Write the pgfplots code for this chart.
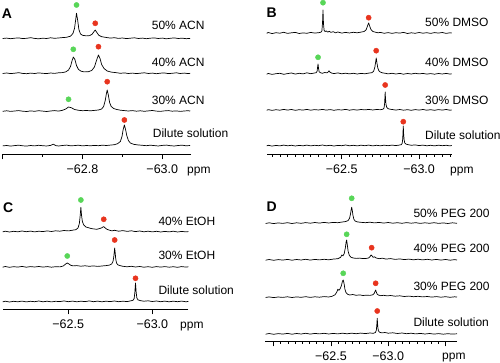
\documentclass[border=0pt]{standalone}
\usepackage{fontspec}
\setmainfont{Liberation Sans}
\usepackage{pgfplots}
\pgfplotsset{compat=1.18}
\definecolor{dotgreen}{RGB}{88,214,88}
\definecolor{dotred}{RGB}{232,52,30}
\pgfplotsset{
 nmr/.style={scale only axis, axis x line=bottom, axis y line=none,
   axis line style={-, line width=0.8pt}, x dir=reverse, ymin=0, clip=false,
   tick align=outside, major tick length=5pt, minor tick length=2.5pt,
   every tick/.style={black, line width=0.7pt}, ytick=\empty,
   xticklabel style={font=\fontsize{12.5}{14}\selectfont, inner sep=0pt, yshift=-5pt}},
 spec/.style={black, line width=0.7pt, no markers, line join=round},
 gdot/.style={only marks, mark=*, mark size=2.6pt, color=dotgreen},
 rdot/.style={only marks, mark=*, mark size=2.6pt, color=dotred},
}
\newcommand{\lbl}{\fontsize{12}{14}\selectfont}
\begin{document}
\begin{tikzpicture}
\path[use as bounding box] (0,0) rectangle (500pt,363pt);
% ---------------- A ----------------
\begin{axis}[nmr, at={(2.7pt,208.5pt)}, anchor=south west, width=188.3pt, height=154.5pt,
  xmin=-63.072, xmax=-62.6, ymax=154.5,
  xtick={-62.6,-62.8,-63.0}, xticklabels={,−62.8,−63.0}, minor x tick num=1]
\addplot[spec] coordinates {(-62.600,116.0)(-62.610,116.4)(-62.620,115.8)(-62.630,116.3)(-62.640,116.6)(-62.650,115.9)(-62.660,116.2)(-62.670,116.8)(-62.680,116.1)(-62.690,115.7)(-62.700,116.3)(-62.710,116.0)(-62.720,116.7)(-62.730,116.2)(-62.740,116.5)(-62.750,116.9)(-62.760,117.2)(-62.770,118.3)(-62.776,121)(-62.780,126)(-62.783,135)(-62.785,141.2)(-62.788,134)(-62.791,125)(-62.795,120.5)(-62.800,119.2)(-62.810,118.6)(-62.818,118.9)(-62.824,120.2)(-62.829,123)(-62.832,124.5)(-62.836,122)(-62.841,119.2)(-62.848,117.8)(-62.860,117.0)(-62.870,116.4)(-62.880,116.8)(-62.890,116.1)(-62.900,116.5)(-62.910,115.9)(-62.920,116.3)(-62.930,116.7)(-62.940,116.0)(-62.950,116.4)(-62.960,115.8)(-62.970,116.3)(-62.980,116.6)(-62.990,116.0)(-63.000,116.4)(-63.010,115.7)(-63.020,116.2)(-63.030,116.6)(-63.040,116.0)(-63.050,116.3)(-63.060,115.8)(-63.070,116.1)};
\addplot[spec] coordinates {(-62.600,81.0)(-62.610,81.5)(-62.620,80.9)(-62.630,81.3)(-62.640,81.8)(-62.650,81.1)(-62.660,80.8)(-62.670,81.4)(-62.680,81.0)(-62.690,81.6)(-62.700,81.2)(-62.710,80.9)(-62.720,81.5)(-62.730,81.1)(-62.740,81.7)(-62.750,81.9)(-62.758,82.6)(-62.765,84.5)(-62.770,88)(-62.774,94)(-62.777,97.5)(-62.781,95)(-62.785,89)(-62.790,85)(-62.797,83.2)(-62.805,82.6)(-62.815,82.8)(-62.823,84)(-62.830,87.5)(-62.835,94)(-62.840,99.5)(-62.844,96)(-62.848,90)(-62.854,86)(-62.862,83.5)(-62.872,82.4)(-62.885,81.8)(-62.895,81.2)(-62.905,81.6)(-62.915,81.0)(-62.925,81.4)(-62.935,80.9)(-62.945,81.3)(-62.955,81.7)(-62.965,81.0)(-62.975,81.4)(-62.985,80.8)(-62.995,81.3)(-63.005,81.6)(-63.015,80.9)(-63.025,81.2)(-63.035,81.7)(-63.045,81.0)(-63.055,81.4)(-63.065,80.9)(-63.070,81.2)};
\addplot[spec] coordinates {(-62.600,43.2)(-62.610,43.7)(-62.620,43.1)(-62.630,43.5)(-62.640,43.9)(-62.650,43.3)(-62.660,43.0)(-62.670,43.6)(-62.680,43.2)(-62.690,43.8)(-62.700,43.4)(-62.710,43.0)(-62.720,43.5)(-62.730,43.9)(-62.740,43.4)(-62.750,44.2)(-62.758,45.5)(-62.765,47.5)(-62.772,46.8)(-62.780,45)(-62.790,44.2)(-62.800,43.8)(-62.810,44.0)(-62.820,43.7)(-62.830,44.1)(-62.840,44.5)(-62.848,45.5)(-62.853,48)(-62.857,54)(-62.860,61)(-62.862,64.5)(-62.865,59)(-62.868,52)(-62.872,48)(-62.878,46)(-62.886,45)(-62.895,44.3)(-62.905,43.9)(-62.915,43.5)(-62.925,43.9)(-62.935,43.3)(-62.945,43.7)(-62.955,43.2)(-62.965,43.6)(-62.975,44.0)(-62.985,43.4)(-62.995,43.1)(-63.005,43.6)(-63.015,43.9)(-63.025,43.3)(-63.035,43.6)(-63.045,43.1)(-63.055,43.5)(-63.065,43.8)(-63.070,43.4)};
\addplot[spec] coordinates {(-62.600,8.6)(-62.610,9.0)(-62.620,8.4)(-62.630,8.9)(-62.640,9.3)(-62.650,8.7)(-62.660,8.4)(-62.670,9.0)(-62.680,8.6)(-62.690,9.2)(-62.700,8.8)(-62.710,8.5)(-62.720,9.1)(-62.727,10.3)(-62.733,8.9)(-62.740,8.5)(-62.750,9.0)(-62.760,9.4)(-62.770,8.7)(-62.780,8.9)(-62.790,9.3)(-62.800,8.6)(-62.810,9.0)(-62.820,8.7)(-62.830,9.1)(-62.840,8.8)(-62.850,9.3)(-62.860,9.0)(-62.870,9.4)(-62.880,9.8)(-62.888,10.8)(-62.895,13)(-62.899,18)(-62.902,25)(-62.905,29.5)(-62.908,25)(-62.911,19)(-62.915,14)(-62.920,11.5)(-62.928,10.2)(-62.938,9.6)(-62.950,9.2)(-62.960,8.8)(-62.970,9.3)(-62.980,8.9)(-62.990,8.5)(-63.000,9.1)(-63.010,9.4)(-63.020,8.8)(-63.030,8.5)(-63.040,9.0)(-63.050,9.3)(-63.060,8.7)(-63.070,9.0)};
\addplot[gdot] coordinates {(-62.785,149.5)(-62.777,105.2)(-62.765,55.2)};
\addplot[rdot] coordinates {(-62.832,131.2)(-62.840,107.8)(-62.862,72.8)(-62.905,34.5)};
\end{axis}
% ---------------- B ----------------
\begin{axis}[nmr, at={(266.7pt,208.7pt)}, anchor=south west, width=185pt, height=154.3pt,
  xmin=-63.211, xmax=-62.015, ymax=154.3,
  xtick={-62.5,-63.0}, xticklabels={−62.5,−63.0},
  minor xtick={-62.05,-62.1,-62.15,-62.2,-62.25,-62.3,-62.35,-62.4,-62.45,-62.55,-62.6,-62.65,-62.7,-62.75,-62.8,-62.85,-62.9,-62.95,-63.05,-63.1,-63.15,-63.2}]
\addplot[spec] coordinates {(-62.015,121.0)(-62.025,121.8)(-62.050,120.7)(-62.075,121.6)(-62.100,121.1)(-62.125,122.0)(-62.150,120.9)(-62.175,121.5)(-62.200,121.9)(-62.225,120.8)(-62.250,121.4)(-62.275,121.0)(-62.300,121.9)(-62.325,121.2)(-62.350,121.6)(-62.365,122.0)(-62.372,123.5)(-62.376,132)(-62.379,144.3)(-62.382,131)(-62.386,124)(-62.392,122.8)(-62.400,123.3)(-62.410,122.2)(-62.420,123.0)(-62.430,121.9)(-62.445,122.6)(-62.460,121.5)(-62.475,122.3)(-62.500,121.2)(-62.525,121.9)(-62.550,121.3)(-62.575,122.0)(-62.600,121.5)(-62.625,122.2)(-62.645,122.8)(-62.658,124.5)(-62.667,128.5)(-62.674,131.3)(-62.681,128)(-62.690,124.5)(-62.700,122.9)(-62.715,122.2)(-62.735,121.5)(-62.750,121.9)(-62.775,121.0)(-62.800,121.7)(-62.825,120.9)(-62.850,121.6)(-62.875,121.2)(-62.900,121.9)(-62.925,120.8)(-62.950,121.5)(-62.975,121.0)(-63.000,121.8)(-63.025,121.1)(-63.050,121.6)(-63.075,120.9)(-63.100,121.7)(-63.125,121.2)(-63.150,121.8)(-63.175,120.9)(-63.200,121.5)(-63.211,121.2)};
\addplot[spec] coordinates {(-62.015,80.1)(-62.025,80.8)(-62.050,79.9)(-62.075,80.6)(-62.100,81.0)(-62.125,80.0)(-62.150,80.7)(-62.175,81.3)(-62.200,80.2)(-62.225,81.0)(-62.250,80.4)(-62.275,81.5)(-62.300,80.6)(-62.320,81.2)(-62.335,81.6)(-62.341,83)(-62.344,87)(-62.347,90.3)(-62.350,86)(-62.354,82.5)(-62.362,81.6)(-62.375,81.0)(-62.390,81.8)(-62.405,81.4)(-62.413,82.5)(-62.418,83.5)(-62.424,82.2)(-62.435,81.2)(-62.450,80.7)(-62.475,81.4)(-62.500,80.5)(-62.525,81.1)(-62.550,80.4)(-62.575,81.0)(-62.600,80.3)(-62.625,80.9)(-62.650,80.5)(-62.675,81.2)(-62.695,81.6)(-62.706,83)(-62.714,87)(-62.719,92)(-62.723,96.3)(-62.727,92)(-62.733,86.5)(-62.740,83.5)(-62.750,82.2)(-62.765,81.4)(-62.785,80.9)(-62.800,80.4)(-62.825,81.0)(-62.850,80.3)(-62.875,80.9)(-62.900,80.1)(-62.925,80.8)(-62.950,80.3)(-62.975,81.0)(-63.000,80.4)(-63.025,80.9)(-63.050,80.2)(-63.075,80.7)(-63.100,80.1)(-63.125,80.8)(-63.150,80.3)(-63.175,80.9)(-63.200,80.2)(-63.211,80.5)};
\addplot[spec] coordinates {(-62.015,44.0)(-62.025,44.7)(-62.050,43.9)(-62.075,44.6)(-62.100,44.1)(-62.125,44.9)(-62.150,44.2)(-62.175,44.8)(-62.200,44.0)(-62.225,44.6)(-62.250,44.2)(-62.275,44.9)(-62.300,44.1)(-62.325,44.7)(-62.350,44.3)(-62.375,44.9)(-62.400,44.2)(-62.425,44.7)(-62.450,44.0)(-62.475,44.6)(-62.500,44.3)(-62.525,44.9)(-62.550,44.1)(-62.575,44.7)(-62.600,44.2)(-62.625,44.8)(-62.650,44.4)(-62.675,44.9)(-62.700,44.3)(-62.725,44.8)(-62.750,44.6)(-62.765,45.0)(-62.773,46)(-62.777,50)(-62.779,56)(-62.781,62.3)(-62.783,56)(-62.786,50)(-62.791,47)(-62.800,45.6)(-62.815,45.0)(-62.835,44.6)(-62.850,44.2)(-62.875,44.8)(-62.900,44.1)(-62.925,44.6)(-62.950,44.0)(-62.975,44.7)(-63.000,44.2)(-63.025,44.8)(-63.050,44.1)(-63.075,44.6)(-63.100,44.0)(-63.125,44.7)(-63.150,44.2)(-63.175,44.8)(-63.200,44.1)(-63.211,44.4)};
\addplot[spec] coordinates {(-62.015,8.4)(-62.025,9.0)(-62.050,8.2)(-62.075,8.9)(-62.100,8.4)(-62.125,9.2)(-62.150,8.5)(-62.175,9.0)(-62.200,8.3)(-62.225,8.9)(-62.250,8.5)(-62.275,9.2)(-62.300,8.4)(-62.325,9.0)(-62.350,8.6)(-62.375,9.3)(-62.400,8.5)(-62.425,9.0)(-62.450,8.3)(-62.475,8.9)(-62.500,8.6)(-62.525,9.3)(-62.550,8.5)(-62.575,9.0)(-62.600,8.4)(-62.625,9.1)(-62.650,8.6)(-62.675,9.2)(-62.700,8.4)(-62.725,9.0)(-62.750,8.5)(-62.775,9.1)(-62.800,8.6)(-62.825,9.2)(-62.850,8.7)(-62.875,9.3)(-62.885,9.6)(-62.891,11)(-62.894,15)(-62.896,21)(-62.898,28.3)(-62.900,21)(-62.903,15)(-62.907,11.5)(-62.915,10.2)(-62.930,9.6)(-62.950,9.0)(-62.975,9.4)(-63.000,8.7)(-63.025,9.2)(-63.050,8.5)(-63.075,9.0)(-63.100,8.4)(-63.125,9.1)(-63.150,8.6)(-63.175,9.0)(-63.200,8.4)(-63.211,8.8)};
\addplot[gdot] coordinates {(-62.379,151.6)(-62.347,97)};
\addplot[rdot] coordinates {(-62.674,136.6)(-62.723,103.6)(-62.781,69.3)(-62.898,32.6)};
\end{axis}
% ---------------- C ----------------
\begin{axis}[nmr, at={(2.7pt,53.5pt)}, anchor=south west, width=185.6pt, height=116.5pt,
  xmin=-63.214, xmax=-62.11, ymax=116.5,
  xtick={-62.5,-63.0}, xticklabels={−62.5,−63.0}]
\addplot[spec] coordinates {(-62.110,77.6)(-62.125,78.3)(-62.150,77.5)(-62.175,78.2)(-62.200,77.7)(-62.225,78.5)(-62.250,77.8)(-62.275,78.4)(-62.300,77.6)(-62.325,78.3)(-62.350,77.9)(-62.375,78.6)(-62.400,78.0)(-62.425,78.7)(-62.450,78.3)(-62.475,79.0)(-62.500,78.6)(-62.525,79.3)(-62.545,79.8)(-62.558,81.5)(-62.566,86)(-62.571,94)(-62.575,102.2)(-62.579,94)(-62.584,88)(-62.592,84.5)(-62.605,82.5)(-62.620,81.8)(-62.635,81.0)(-62.650,80.6)(-62.670,80.2)(-62.685,80.9)(-62.698,81.6)(-62.706,82.5)(-62.711,82.8)(-62.718,81.8)(-62.730,80.2)(-62.745,79.3)(-62.760,78.6)(-62.775,79.2)(-62.800,78.3)(-62.825,78.9)(-62.850,78.1)(-62.875,78.7)(-62.900,77.9)(-62.925,78.5)(-62.950,77.7)(-62.975,78.3)(-63.000,77.6)(-63.025,78.2)(-63.050,77.5)(-63.075,78.1)(-63.100,77.6)(-63.125,78.3)(-63.150,77.5)(-63.175,78.1)(-63.200,77.6)(-63.214,77.9)};
\addplot[spec] coordinates {(-62.110,42.3)(-62.125,43.0)(-62.150,42.2)(-62.175,42.8)(-62.200,42.4)(-62.225,43.1)(-62.250,42.3)(-62.275,42.9)(-62.300,42.5)(-62.325,43.0)(-62.350,42.4)(-62.375,42.9)(-62.400,42.3)(-62.425,42.8)(-62.450,42.6)(-62.470,43.5)(-62.485,45.5)(-62.494,46.5)(-62.503,45.6)(-62.515,44.2)(-62.530,43.6)(-62.550,43.9)(-62.575,43.3)(-62.600,43.7)(-62.625,43.2)(-62.650,43.6)(-62.675,43.1)(-62.700,43.5)(-62.725,43.9)(-62.745,44.4)(-62.758,45.5)(-62.766,48)(-62.771,53)(-62.774,58)(-62.776,61.5)(-62.779,57)(-62.782,51)(-62.787,46.5)(-62.795,44.6)(-62.810,43.8)(-62.825,43.2)(-62.850,42.7)(-62.875,43.2)(-62.900,42.5)(-62.925,43.0)(-62.950,42.3)(-62.975,42.8)(-63.000,42.2)(-63.025,42.9)(-63.050,42.4)(-63.075,42.9)(-63.100,42.3)(-63.125,42.8)(-63.150,42.2)(-63.175,42.9)(-63.200,42.4)(-63.214,42.7)};
\addplot[spec] coordinates {(-62.110,7.6)(-62.125,8.3)(-62.150,7.5)(-62.175,8.2)(-62.200,7.7)(-62.225,8.4)(-62.250,7.6)(-62.275,8.2)(-62.300,7.8)(-62.325,8.5)(-62.350,7.7)(-62.375,8.3)(-62.400,7.6)(-62.425,8.2)(-62.450,7.9)(-62.475,8.6)(-62.500,7.8)(-62.525,8.4)(-62.550,7.7)(-62.575,8.3)(-62.600,7.9)(-62.625,8.6)(-62.650,7.8)(-62.675,8.4)(-62.700,7.7)(-62.725,8.3)(-62.750,7.9)(-62.775,8.5)(-62.800,7.8)(-62.825,8.3)(-62.850,7.9)(-62.870,8.6)(-62.885,9.2)(-62.892,11)(-62.896,17)(-62.898,22)(-62.900,26.5)(-62.902,22)(-62.904,17)(-62.908,11.5)(-62.915,9.6)(-62.930,8.8)(-62.950,8.3)(-62.975,8.7)(-63.000,8.0)(-63.025,8.5)(-63.050,7.8)(-63.075,8.4)(-63.100,7.7)(-63.125,8.3)(-63.150,7.8)(-63.175,8.4)(-63.200,7.7)(-63.214,8.1)};
\addplot[gdot] coordinates {(-62.575,109.5)(-62.494,53.5)};
\addplot[rdot] coordinates {(-62.711,90.2)(-62.776,69.5)(-62.900,31.2)};
\end{axis}
% ---------------- D ----------------
\begin{axis}[nmr, at={(265.3pt,21.7pt)}, anchor=south west, width=191.7pt, height=148.3pt,
  xmin=-63.6, xmax=-61.927, ymax=148.3,
  xtick={-62.0,-62.5,-63.0,-63.5}, xticklabels={,−62.5,−63.0,}, minor x tick num=7]
\addplot[spec] coordinates {(-61.930,117.8)(-61.960,118.5)(-62.000,117.7)(-62.040,118.4)(-62.080,117.9)(-62.120,118.6)(-62.160,117.8)(-62.200,118.5)(-62.240,118.0)(-62.280,118.7)(-62.320,118.1)(-62.360,118.8)(-62.400,118.2)(-62.440,118.9)(-62.480,118.3)(-62.520,118.9)(-62.560,118.6)(-62.600,119.3)(-62.630,119.8)(-62.650,120.8)(-62.662,123)(-62.671,127.5)(-62.677,132)(-62.681,134)(-62.686,131)(-62.692,126)(-62.700,122)(-62.712,120.2)(-62.730,119.4)(-62.760,119.0)(-62.800,118.6)(-62.840,119.1)(-62.880,118.4)(-62.920,118.9)(-62.960,118.2)(-63.000,118.8)(-63.040,118.1)(-63.080,118.6)(-63.120,118.0)(-63.160,118.7)(-63.200,118.1)(-63.240,118.6)(-63.280,117.9)(-63.320,118.5)(-63.360,118.0)(-63.400,118.6)(-63.440,117.9)(-63.480,118.4)(-63.520,117.8)(-63.560,118.5)(-63.600,118.0)};
\addplot[spec] coordinates {(-61.930,81.1)(-61.960,81.8)(-62.000,81.0)(-62.040,81.7)(-62.080,81.2)(-62.120,81.9)(-62.160,81.1)(-62.200,81.8)(-62.240,81.3)(-62.280,82.0)(-62.320,81.2)(-62.360,81.9)(-62.400,81.4)(-62.440,82.0)(-62.480,81.5)(-62.520,82.2)(-62.560,82.6)(-62.585,84)(-62.595,86.3)(-62.605,85.5)(-62.615,87.5)(-62.625,93)(-62.632,99)(-62.637,101.3)(-62.642,97)(-62.650,90)(-62.660,86)(-62.675,84)(-62.695,83.3)(-62.720,82.9)(-62.750,83.2)(-62.780,82.7)(-62.810,82.9)(-62.830,83.4)(-62.843,85)(-62.850,86.3)(-62.858,85.5)(-62.868,84)(-62.880,84.5)(-62.895,83.3)(-62.920,82.6)(-62.950,83.1)(-62.980,82.2)(-63.020,82.7)(-63.060,81.9)(-63.100,82.4)(-63.140,81.7)(-63.180,82.2)(-63.220,81.5)(-63.260,82.1)(-63.300,81.4)(-63.340,82.0)(-63.380,81.3)(-63.420,81.9)(-63.460,81.2)(-63.500,81.8)(-63.540,81.1)(-63.580,81.7)(-63.600,81.3)};
\addplot[spec] coordinates {(-61.930,43.8)(-61.960,44.4)(-62.000,43.7)(-62.040,44.3)(-62.080,43.9)(-62.120,44.5)(-62.160,43.8)(-62.200,44.4)(-62.240,44.0)(-62.280,44.6)(-62.320,43.9)(-62.360,44.5)(-62.400,44.1)(-62.440,44.7)(-62.480,44.3)(-62.510,45)(-62.535,46.5)(-62.550,49)(-62.560,52)(-62.570,51)(-62.580,52.5)(-62.592,56)(-62.600,60)(-62.607,61.3)(-62.614,58)(-62.622,52)(-62.632,48.5)(-62.645,47)(-62.665,46.3)(-62.690,46.8)(-62.720,46.0)(-62.750,46.4)(-62.780,45.8)(-62.810,46.1)(-62.840,45.9)(-62.865,46.5)(-62.878,48)(-62.885,50)(-62.890,51.3)(-62.895,49.5)(-62.903,47.2)(-62.915,46.2)(-62.935,45.6)(-62.960,46.0)(-62.990,45.4)(-63.020,45.8)(-63.060,45.1)(-63.100,45.5)(-63.140,44.8)(-63.180,45.2)(-63.220,44.6)(-63.260,45.0)(-63.300,44.4)(-63.340,44.8)(-63.380,44.2)(-63.420,44.7)(-63.460,44.1)(-63.500,44.6)(-63.540,44.0)(-63.580,44.5)(-63.600,44.2)};
\addplot[spec] coordinates {(-61.930,7.1)(-61.960,7.8)(-62.000,7.0)(-62.040,7.7)(-62.080,7.2)(-62.120,7.9)(-62.160,7.1)(-62.200,7.8)(-62.240,7.3)(-62.280,8.0)(-62.320,7.2)(-62.360,7.9)(-62.400,7.4)(-62.440,8.0)(-62.480,7.3)(-62.520,7.9)(-62.560,7.4)(-62.600,8.1)(-62.640,7.5)(-62.680,8.1)(-62.720,7.6)(-62.760,8.2)(-62.800,7.7)(-62.840,8.3)(-62.870,8.0)(-62.888,8.8)(-62.896,11)(-62.900,16)(-62.902,20)(-62.904,23)(-62.906,19)(-62.909,14)(-62.914,10.5)(-62.925,9.0)(-62.945,8.4)(-62.970,8.8)(-63.000,8.1)(-63.040,8.5)(-63.080,7.8)(-63.120,8.3)(-63.160,7.6)(-63.200,8.1)(-63.240,7.4)(-63.280,7.9)(-63.320,7.3)(-63.360,7.8)(-63.400,7.2)(-63.440,7.7)(-63.480,7.1)(-63.520,7.6)(-63.560,7.2)(-63.600,7.5)};
\addplot[gdot] coordinates {(-62.681,143)(-62.637,107)(-62.607,68)};
\addplot[rdot] coordinates {(-62.855,93.6)(-62.890,58)(-62.904,30.3)};
\end{axis}
% ---------------- labels ----------------
\begin{scope}[every node/.style={inner sep=0pt, font=\lbl}]
\node[anchor=west] at (151.7pt,337.2pt) {50\% ACN};
\node[anchor=west] at (151.7pt,300.5pt) {40\% ACN};
\node[anchor=west] at (151.7pt,262.2pt) {30\% ACN};
\node[anchor=west] at (152.7pt,230pt) {Dilute solution};
\node[anchor=west] at (425pt,340.5pt) {50\% DMSO};
\node[anchor=west] at (425pt,300.5pt) {40\% DMSO};
\node[anchor=west] at (425pt,262.2pt) {30\% DMSO};
\node[anchor=west] at (425pt,227.7pt) {Dilute solution};
\node[anchor=west] at (158.3pt,141.5pt) {40\% EtOH};
\node[anchor=west] at (158.3pt,107.2pt) {30\% EtOH};
\node[anchor=west] at (158.3pt,73pt) {Dilute solution};
\node[anchor=west] at (413.3pt,149.5pt) {50\% PEG 200};
\node[anchor=west] at (413.3pt,114.7pt) {40\% PEG 200};
\node[anchor=west] at (413.3pt,76.2pt) {30\% PEG 200};
\node[anchor=west] at (413.3pt,40.8pt) {Dilute solution};
\node[anchor=base west] at (187pt,189pt) {ppm};
\node[anchor=base west] at (450pt,189pt) {ppm};
\node[anchor=base west] at (180pt,34pt) {ppm};
\node[anchor=base west] at (442pt,3pt) {ppm};
\end{scope}
\begin{scope}[every node/.style={inner sep=0pt, font=\fontsize{14}{16}\selectfont\bfseries}]
\node at (7pt,349.7pt) {A};
\node at (271.7pt,350.2pt) {B};
\node at (8.3pt,155pt) {C};
\node at (271.7pt,156pt) {D};
\end{scope}
\end{tikzpicture}
\end{document}
